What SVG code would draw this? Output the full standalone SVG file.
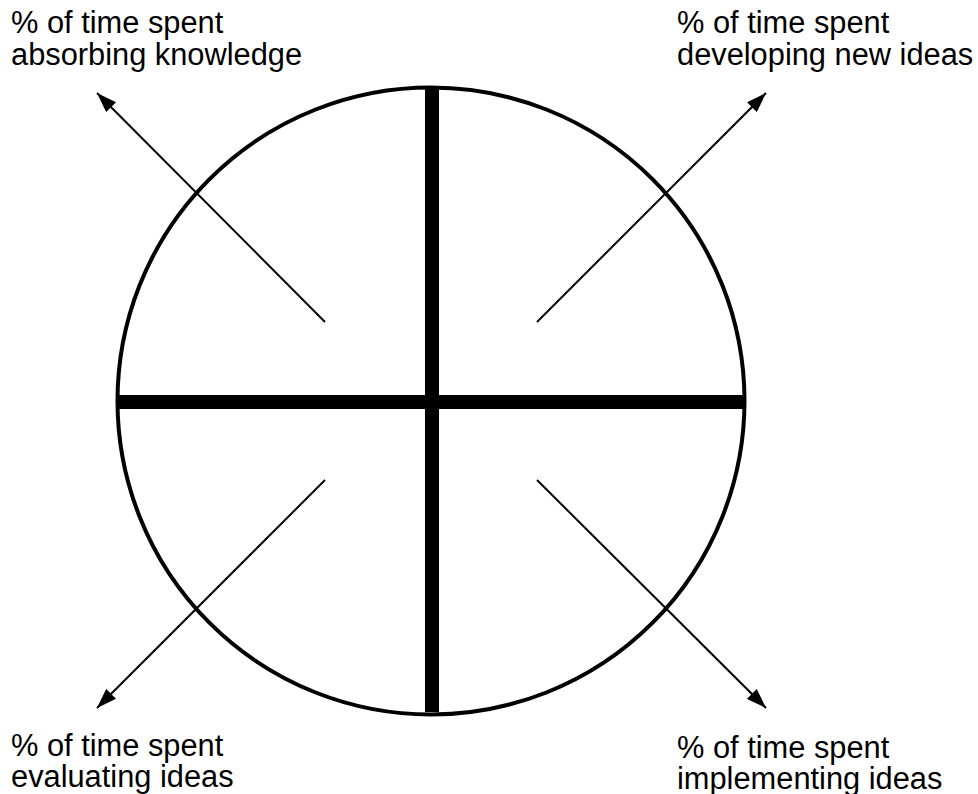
<svg xmlns="http://www.w3.org/2000/svg" width="978" height="794" viewBox="0 0 978 794">
<style>
  text { font-family: "Liberation Sans", Arial, sans-serif; font-size: 30.8px; fill: #000; }
  .arrow { stroke: #000; stroke-width: 2; fill: none; marker-end: url(#ah); }
  .axis { stroke: #000; stroke-width: 14; fill: none; }
</style>
<defs>
  <marker id="ah" viewBox="0 0 20 14" refX="20" refY="7" markerWidth="20" markerHeight="14" markerUnits="userSpaceOnUse" orient="auto">
    <path d="M0,0 L20,7 L0,14 Z" fill="#000"/>
  </marker>
</defs>
<rect width="978" height="794" fill="#fff"/>
<g id="circle">
  <circle cx="431" cy="401" r="313.5" fill="none" stroke="#000" stroke-width="4"/>
</g>
<g id="axes">
  <line class="axis" x1="432" y1="86" x2="432" y2="712"/>
  <line class="axis" x1="118" y1="402" x2="743" y2="402"/>
</g>
<g id="connectors">
  <line class="arrow" x1="325" y1="322" x2="97" y2="93"/>
  <line class="arrow" x1="537" y1="322" x2="766" y2="93"/>
  <line class="arrow" x1="325" y1="480" x2="97" y2="708"/>
  <line class="arrow" x1="537" y1="480" x2="766" y2="708"/>
</g>
<g id="label-absorbing">
  <text x="11" y="33">% of time spent</text>
  <text x="11" y="65">absorbing knowledge</text>
</g>
<g id="label-developing">
  <text x="677" y="33">% of time spent</text>
  <text x="677" y="65">developing new ideas</text>
</g>
<g id="label-evaluating">
  <text x="11" y="756">% of time spent</text>
  <text x="11" y="787">evaluating ideas</text>
</g>
<g id="label-implementing">
  <text x="677" y="758">% of time spent</text>
  <text x="677" y="789">implementing ideas</text>
</g>
</svg>
